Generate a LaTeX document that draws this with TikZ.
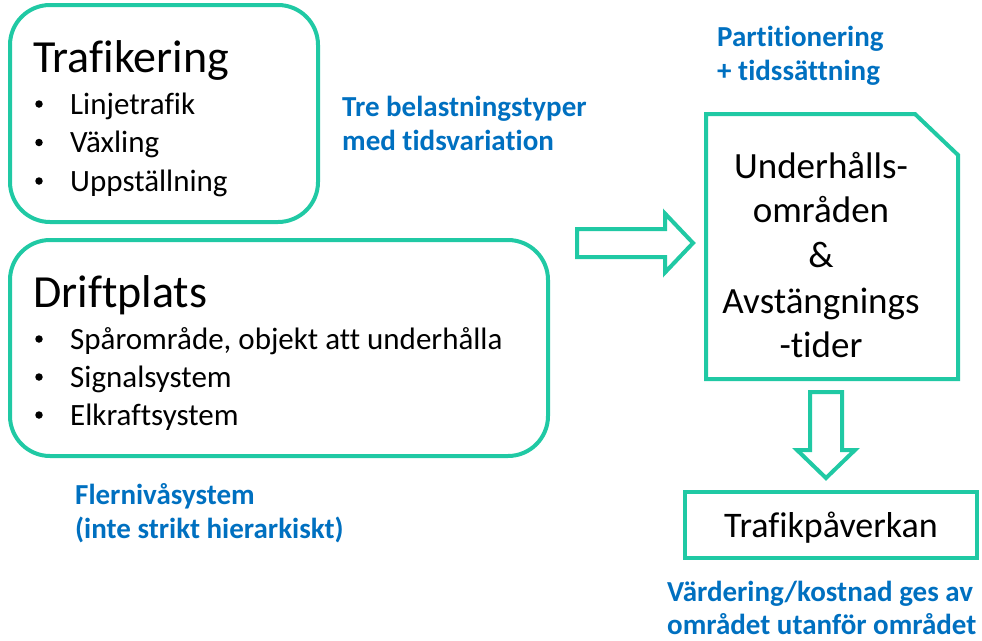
\documentclass[tikz,border=0pt]{standalone}
\usepackage{fontspec}
\setmainfont{Carlito}[Ligatures=NoCommon]
\definecolor{teal}{RGB}{32,201,164}
\definecolor{blu}{RGB}{0,112,192}
\tikzset{
  frame/.style={draw=teal,line width=4pt},
  roundframe/.style={frame,rounded corners=40pt},
  blockarrow/.style={draw=teal,line width=4pt,line join=miter,fill=white},
  title/.style={anchor=base west,inner sep=0pt,font=\fontsize{46}{55}\selectfont},
  item/.style={anchor=base west,inner sep=0pt,font=\fontsize{31}{37}\selectfont},
  bul/.style={circle,fill=black,inner sep=0pt,minimum size=7.5pt},
  doctext/.style={anchor=base,inner sep=0pt,font=\fontsize{37}{44}\selectfont},
  note/.style={anchor=base west,inner sep=0pt,text=blu,font=\fontsize{29}{34}\selectfont\bfseries},
}
\begin{document}
\begin{tikzpicture}[x=1pt,y=-1pt]
\useasboundingbox (0,0) rectangle (982,640);
% Trafikering box
\draw[roundframe] (10,5) rectangle (318,222);
\node[title] (t1) at (33,72) {Trafikering};
\node[bul] (b1) at (39,104) {};
\node[item] (i1) at (70,114) {Linjetrafik};
\node[bul] (b2) at (39,142.5) {};
\node[item] (i2) at (70,152.5) {Växling};
\node[bul] (b3) at (39,181) {};
\node[item] (i3) at (70,191) {Uppställning};
% Driftplats box
\draw[roundframe] (10,240) rectangle (548,456);
\node[title] (t2) at (33,307) {Driftplats};
\node[bul] (b4) at (39,339) {};
\node[item] (i4) at (70,349) {Spårområde, objekt att underhålla};
\node[bul] (b5) at (39,377) {};
\node[item] (i5) at (70,387) {Signalsystem};
\node[bul] (b6) at (39,415) {};
\node[item] (i6) at (70,425) {Elkraftsystem};
% notes
\node[note] (n1) at (342,116) {Tre belastningstyper};
\node[note] (n2) at (342,150) {med tidsvariation};
\node[note] (n3) at (717,46) {Partitionering};
\node[note] (n4) at (717,80) {+ tidssättning};
\node[note] (n5) at (75,504) {Flernivåsystem};
\node[note] (n6) at (75,538) {(inte strikt hierarkiskt)};
\node[note] (n7) at (667,601) {Värdering/kostnad ges av};
\node[note] (n8) at (667,634) {området utanför området};
% right block arrow
\draw[blockarrow] (577,229) -- (665,229) -- (665,213.5) -- (693,243) -- (665,272.5) -- (665,257) -- (577,257) -- cycle;
% document shape
\draw[frame,line join=miter] (706,114) -- (915,114) -- (958,155) -- (958,379) -- (706,379) -- cycle;
\node[doctext] (d1) at (821,178) {Underhålls-};
\node[doctext] (d2) at (821,222) {områden};
\node[doctext] (d3) at (821,267) {\&};
\node[doctext] (d4) at (821,313) {Avstängnings};
\node[doctext] (d5) at (821,357) {-tider};
% down block arrow
\draw[blockarrow] (810,392) -- (842,392) -- (842,450) -- (855,450) -- (826,478) -- (797,450) -- (810,450) -- cycle;
% Trafikpaverkan
\draw[frame] (685,492) rectangle (977,558);
\node[anchor=base,inner sep=0pt,font=\fontsize{36}{43}\selectfont] (tp) at (831,537) {Trafikpåverkan};
\end{tikzpicture}
\end{document}
